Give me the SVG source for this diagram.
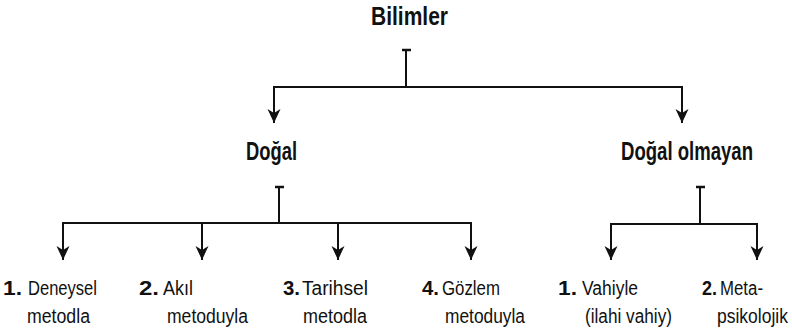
<svg xmlns="http://www.w3.org/2000/svg" width="792" height="332" viewBox="0 0 792 332">
<style>
.h{font-family:"Liberation Sans",Arial,sans-serif;font-weight:bold;font-size:25px;fill:#111}
.t{font-family:"Liberation Sans",Arial,sans-serif;font-size:19.5px;fill:#111}
.b{font-weight:bold}
.ln{stroke:#111;stroke-width:2;fill:none}
.tb{stroke:#111;stroke-width:2.5;fill:none}
</style>
<defs>
<marker id="ah" markerUnits="userSpaceOnUse" markerWidth="16" markerHeight="16" viewBox="-15 -8 16 16" refX="0" refY="0" orient="auto">
<path d="M0,0 L-14,-6.5 L-10,0 L-14,6.5 Z" fill="#111"/>
</marker>
</defs>
<rect width="792" height="332" fill="#fff"/>
<g id="connectors">
<line class="tb" x1="402" y1="50" x2="411" y2="50"/>
<polyline class="ln" points="406,50 406,87"/>
<polyline class="ln" points="274,87 682,87"/>
<line class="ln" x1="274" y1="86" x2="274" y2="123" marker-end="url(#ah)"/>
<line class="ln" x1="682" y1="86" x2="682" y2="123" marker-end="url(#ah)"/>
<line class="tb" x1="275" y1="187" x2="284" y2="187"/>
<polyline class="ln" points="279,187 279,223"/>
<polyline class="ln" points="63,223 471,223"/>
<line class="ln" x1="63" y1="222" x2="63" y2="260" marker-end="url(#ah)"/>
<line class="ln" x1="202" y1="222" x2="202" y2="260" marker-end="url(#ah)"/>
<line class="ln" x1="338" y1="222" x2="338" y2="260" marker-end="url(#ah)"/>
<line class="ln" x1="471" y1="222" x2="471" y2="260" marker-end="url(#ah)"/>
<line class="tb" x1="696" y1="187" x2="705" y2="187"/>
<polyline class="ln" points="700,187 700,224"/>
<polyline class="ln" points="611,224 757,224"/>
<line class="ln" x1="611" y1="223" x2="611" y2="260" marker-end="url(#ah)"/>
<line class="ln" x1="757" y1="223" x2="757" y2="260" marker-end="url(#ah)"/>
</g>
<g id="bilimler"><text class="h" x="371" y="25" textLength="77" lengthAdjust="spacingAndGlyphs">Bilimler</text></g>
<g id="dogal"><text class="h" x="246" y="160" textLength="51" lengthAdjust="spacingAndGlyphs">Doğal</text></g>
<g id="dogal-olmayan"><text class="h" transform="translate(621,160) scale(0.742,1)" x="0" y="0" textLength="177.9" lengthAdjust="spacingAndGlyphs">Doğal olmayan</text></g>
<g id="deneysel">
<text class="t b" x="3" y="295" textLength="19" lengthAdjust="spacingAndGlyphs">1.</text>
<text class="t" x="28" y="295" textLength="69" lengthAdjust="spacingAndGlyphs">Deneysel</text>
<text class="t" x="27" y="323" textLength="63" lengthAdjust="spacingAndGlyphs">metodla</text>
</g>
<g id="akil">
<text class="t b" x="139" y="295" textLength="20" lengthAdjust="spacingAndGlyphs">2.</text>
<text class="t" x="163" y="295" textLength="30" lengthAdjust="spacingAndGlyphs">Akıl</text>
<text class="t" x="167" y="323" textLength="81" lengthAdjust="spacingAndGlyphs">metoduyla</text>
</g>
<g id="tarihsel">
<text class="t b" x="283" y="295" textLength="17" lengthAdjust="spacingAndGlyphs">3.</text>
<text class="t" x="302" y="295" textLength="66" lengthAdjust="spacingAndGlyphs">Tarihsel</text>
<text class="t" x="303" y="323" textLength="64" lengthAdjust="spacingAndGlyphs">metodla</text>
</g>
<g id="gozlem">
<text class="t b" x="422" y="295" textLength="17" lengthAdjust="spacingAndGlyphs">4.</text>
<text class="t" x="442" y="295" textLength="58" lengthAdjust="spacingAndGlyphs">Gözlem</text>
<text class="t" x="445" y="323" textLength="80" lengthAdjust="spacingAndGlyphs">metoduyla</text>
</g>
<g id="vahiyle">
<text class="t b" x="558" y="295" textLength="19" lengthAdjust="spacingAndGlyphs">1.</text>
<text class="t" x="582" y="295" textLength="56" lengthAdjust="spacingAndGlyphs">Vahiyle</text>
<text class="t" x="585" y="323" textLength="87" lengthAdjust="spacingAndGlyphs">(ilahi vahiy)</text>
</g>
<g id="metapsikolojik">
<text class="t b" x="702" y="295" textLength="15" lengthAdjust="spacingAndGlyphs">2.</text>
<text class="t" x="720" y="295" textLength="43" lengthAdjust="spacingAndGlyphs">Meta-</text>
<text class="t" transform="translate(717,323) scale(0.898,1)" x="0" y="0" textLength="79" lengthAdjust="spacingAndGlyphs">psikolojik</text>
</g>
</svg>
